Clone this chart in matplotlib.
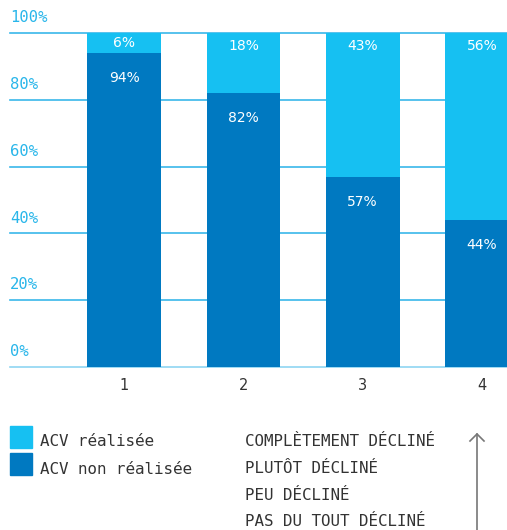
import numpy as np
import matplotlib.pyplot as plt

# data
categories = ['1', '2', '3', '4']
non_realisee = [94, 82, 57, 44]
realisee = [6, 18, 43, 56]
yticks = [0, 20, 40, 60, 80, 100]
legend_labels = ['ACV réalisée', 'ACV non réalisée']
scale_labels = ['COMPLÈTEMENT DÉCLINÉ', 'PLUTÔT DÉCLINÉ', 'PEU DÉCLINÉ', 'PAS DU TOUT DÉCLINÉ']

light = '#16c0f2'
dark = '#0079c1'
grid_col = '#3ab8ea'
mono = 'DejaVu Sans Mono'

fig = plt.figure(figsize=(5.07, 5.30), dpi=100)
ax = fig.add_axes([10 / 507, 1 - 367 / 530, 497 / 507, 334 / 530])

x = np.arange(1, len(categories) + 1)
width = 0.62

# gridlines and y labels sitting above them
for t in yticks:
    col = '#8fd6f2' if t == 0 else grid_col
    ax.axhline(t, color=col, lw=1.2, zorder=0, clip_on=False)
    ax.annotate(f'{t}%', xy=(0, t), xycoords=('axes fraction', 'data'),
                xytext=(0, 11), textcoords='offset points', ha='left', va='center',
                fontsize=11.2, family=mono, color='#29b6ea')

ax.bar(x, non_realisee, width, color=dark, zorder=2)
ax.bar(x, realisee, width, bottom=non_realisee, color=light, zorder=2)

# value labels
for xi, nv, rv in zip(x, non_realisee, realisee):
    ax.annotate(f'{nv}%', xy=(xi, nv), xytext=(0, -18), textcoords='offset points',
                ha='center', va='center', color='white', fontsize=10, zorder=3)
    if rv < 10:
        ax.text(xi, nv + rv / 2, f'{rv}%', ha='center', va='center',
                color='white', fontsize=10, zorder=3)
    else:
        ax.annotate(f'{rv}%', xy=(xi, 100), xytext=(0, -9), textcoords='offset points',
                    ha='center', va='center', color='white', fontsize=10, zorder=3)

ax.set_xlim(1 - 114 / 119, 4 + 25 / 119)
ax.set_ylim(0, 100)
ax.set_xticks(x)
ax.set_xticklabels(categories, fontsize=10.5, color='#333333')
ax.tick_params(axis='x', length=0, pad=8)
ax.set_yticks([])
for s in ax.spines.values():
    s.set_visible(False)

# legend squares and labels
fig.patches.append(plt.Rectangle((10 / 507, 1 - 448 / 530), 22 / 507, 22 / 530,
                                 transform=fig.transFigure, color=light))
fig.patches.append(plt.Rectangle((10 / 507, 1 - 475 / 530), 22 / 507, 22 / 530,
                                 transform=fig.transFigure, color=dark))
for i, lab in enumerate(legend_labels):
    fig.text(40 / 507, 1 - (442 + 27 * i) / 530, lab, family=mono, fontsize=11.4,
             color='#333333', va='center', ha='left')

for i, lab in enumerate(scale_labels):
    fig.text(245 / 507, 1 - (442 + 26.5 * i) / 530, lab, family=mono, fontsize=11.4,
             color='#333333', va='center', ha='left')

# arrow pointing up
fig.add_artist(plt.Line2D([477 / 507, 477 / 507], [0, 1 - 434 / 530],
                          transform=fig.transFigure, color='#777777', lw=1.2))
fig.add_artist(plt.Line2D([470 / 507, 477 / 507, 484 / 507],
                          [1 - 441 / 530, 1 - 434 / 530, 1 - 441 / 530],
                          transform=fig.transFigure, color='#777777', lw=1.2))

fig.savefig('out.png', dpi=100)
